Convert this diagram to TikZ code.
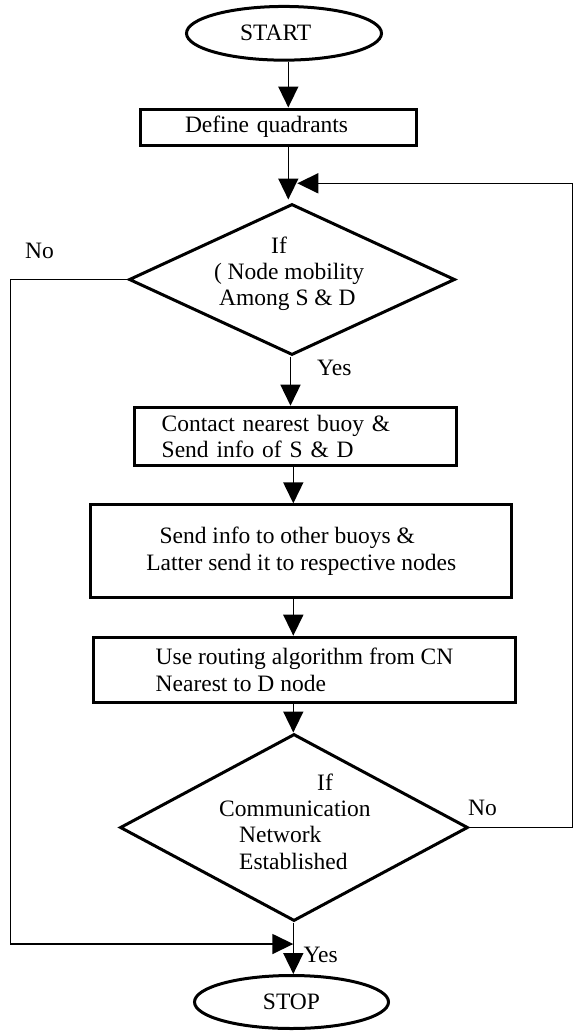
\documentclass[tikz,border=0pt]{standalone}
\usepackage{fontspec}
\setmainfont{Liberation Serif}
\usetikzlibrary{shapes.geometric,arrows.meta}

\tikzset{
  txt/.style={font=\fontsize{23.5}{26.4}\selectfont, inner sep=0pt},
  terminal/.style={txt, ellipse, draw, line width=3pt},
  process/.style={txt, rectangle, draw, line width=3pt, align=left},
  decision/.style={diamond, draw, line width=3pt, inner sep=0pt},
  tag/.style={txt, anchor=base west},
  flowline/.style={line width=1.6pt, -{Triangle[length=21pt,width=20pt]}},
}

\begin{document}
\begin{tikzpicture}[x=1pt, y=-1pt]
  \useasboundingbox (0,0) rectangle (575,1031);

  % vertical axes of the main flow and the two return rails
  \coordinate (ax1) at (288.3,0);
  \coordinate (ax2) at (290.5,0);
  \coordinate (ax3) at (293.3,0);
  \coordinate (leftrail) at (10.5,0);
  \coordinate (rightrail) at (572.3,0);

  % terminals
  \node[terminal, minimum width=195pt, minimum height=53.7pt,
        text width=88pt, align=left] (start) at (284,33.3) {START};
  \node[terminal, minimum width=194pt, minimum height=53pt] (stop) at (291.5,1002) {STOP};

  % process steps
  \node[process, minimum width=276.3pt, minimum height=36pt, text width=187.4pt]
    (define) at (278.7,127) {Define quadrants};
  \node[process, minimum width=322pt, minimum height=58pt, text width=267.6pt]
    (contact) at (295.5,436.2) {Contact nearest buoy \&\\Send info of S \& D};
  \node[process, minimum width=421pt, minimum height=92.7pt]
    (inform) at (301.3,551.2) {\hspace*{13.3pt}Send info to other buoys \&\\Latter send it to respective nodes};
  \node[process, minimum width=422.6pt, minimum height=65.6pt]
    (route) at (304.5,670) {Use routing algorithm from CN\\Nearest to D node};

  % decisions
  \node[decision, minimum width=326pt, minimum height=151pt] (mob) at (292,279.5) {};
  \node[tag] (mobtext) at (213.8,253)
    {\begin{tabular}[t]{@{}l@{}}\hspace*{57.2pt}If\\( Node mobility\\\hspace*{5.2pt}Among S \& D\end{tabular}};

  \node[decision, minimum width=348pt, minimum height=187pt] (net) at (294,827.5) {};
  \node[tag] (nettext) at (219,790)
    {\begin{tabular}[t]{@{}l@{}}\hspace*{98pt}If\\Communication\\\hspace*{20pt}Network\\\hspace*{20pt}Established\end{tabular}};

  % branch labels
  \node[tag] (no1) at (25,258) {No};
  \node[tag] (yes1) at (317,375) {Yes};
  \node[tag] (no2) at (468,815) {No};
  \node[tag] (yes2) at (303.3,962.7) {Yes};

  % join points of the return lines
  \coordinate (merge) at (293.3,944);
  \coordinate (back) at (297.3,183.3);

  % main flow
  \draw[flowline] (start.south -| ax1) -- (define.north -| ax1);
  \draw[flowline, shorten >=3pt] (define.south -| ax1) -- (mob.north -| ax1);
  \draw[flowline] (mob.south -| ax2) -- (contact.north -| ax2);
  \draw[flowline] (contact.south -| ax3) -- (inform.north -| ax3);
  \draw[flowline] (inform.south -| ax3) -- (route.north -| ax3);
  \draw[flowline] (route.south -| ax3) -- (net.north -| ax3);
  \draw[flowline] (net.south -| ax3) -- (stop.north -| ax3);

  % "No" branches
  \draw[flowline] (mob.west) -- (mob.west -| leftrail) |- (merge);
  \draw[flowline] (net.east) -- (net.east -| rightrail) |- (back);
\end{tikzpicture}
\end{document}
